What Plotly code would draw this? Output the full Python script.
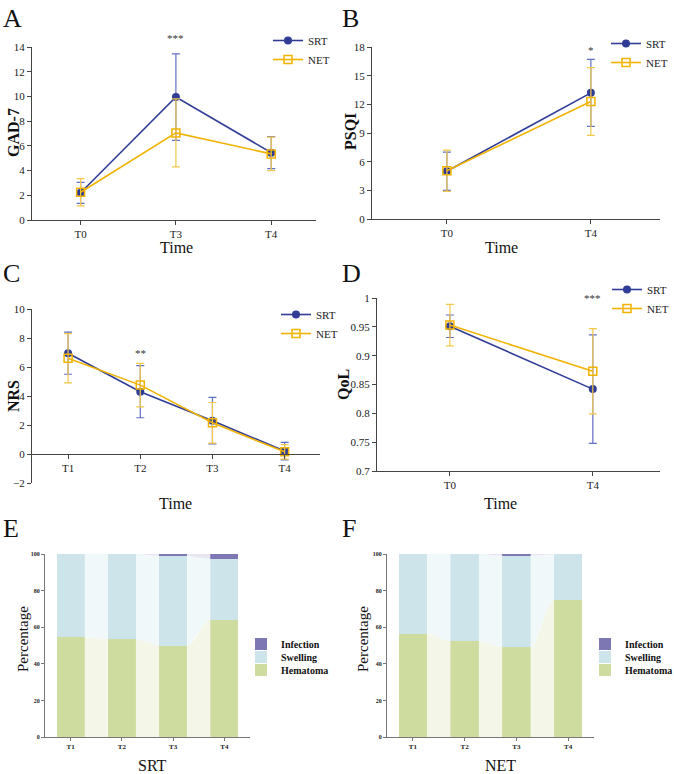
import plotly.graph_objects as go
import numpy as np

W, H = 674, 774
def px(x): return x / W
def py(y): return 1 - y / H

# ---------------- data ----------------
gad_time = ["T0", "T3", "T4"]
gad_srt = [2.2, 9.95, 5.45]
gad_srt_err = [0.85, 3.5, 1.3]
gad_net = [2.25, 7.05, 5.35]
gad_net_err = [1.1, 2.75, 1.35]
gad_sig = ["", "***", ""]

psqi_time = ["T0", "T4"]
psqi_srt = [5.0, 13.2]
psqi_srt_err = [2.0, 3.5]
psqi_net = [5.05, 12.3]
psqi_net_err = [2.15, 3.55]
psqi_sig = ["", "*"]

nrs_time = ["T1", "T2", "T3", "T4"]
nrs_srt = [6.95, 4.3, 2.3, 0.2]
nrs_srt_err = [1.45, 1.8, 1.6, 0.6]
nrs_net = [6.6, 4.75, 2.15, 0.15]
nrs_net_err = [1.7, 1.5, 1.4, 0.5]
nrs_sig = ["", "**", "", ""]

qol_time = ["T0", "T4"]
qol_srt = [0.951, 0.842]
qol_srt_err = [0.0195, 0.094]
qol_net = [0.953, 0.873]
qol_net_err = [0.036, 0.074]
qol_sig = ["", "***"]

comp_time = ["T1", "T2", "T3", "T4"]
srt_hematoma = [54.5, 53.4, 50.0, 64.2]
srt_swelling = [45.5, 46.6, 49.0, 33.3]
srt_infection = [0.0, 0.0, 1.0, 2.5]
net_hematoma = [56.3, 52.4, 49.2, 75.0]
net_swelling = [43.7, 47.6, 49.8, 25.0]
net_infection = [0.0, 0.0, 1.0, 0.0]

# ---------------- styles ----------------
FONT = "Liberation Serif"
SRT_C = "#2f3d96"
SRT_E = "#6170c4"
NET_C = "#f2b200"
NET_E = "#f4c84a"
AX_C = "#444444"
HEM_C = "#cfdca0"
SWE_C = "#cde4ea"
INF_C = "#7d78b4"
HEM_G = "#f4f6e8"
SWE_G = "#f0f8fa"
INF_G = "#e8e5f2"

fig = go.Figure()

line_panels = [
    dict(n="", t=gad_time, s=gad_srt, se=gad_srt_err, m=gad_net, me=gad_net_err, sig=gad_sig,
         xd=(32, 316), yd=(220, 47), yr=(0, 14), dt=2, xr=(-0.51, 2.47), yt="GAD-7",
         ytp=(13, 133), xtp=(176, 248), lg=(268, 26), letter="A", lp=(1, 2), sigshift=9),
    dict(n="2", t=psqi_time, s=psqi_srt, se=psqi_srt_err, m=psqi_net, me=psqi_net_err, sig=psqi_sig,
         xd=(372, 660), yd=(219, 47), yr=(0, 18), dt=3, xr=(-0.52, 1.48), yt="PSQI",
         ytp=(351, 132), xtp=(501, 248), lg=(606, 29), letter="B", lp=(340, 2), sigshift=-3),
    dict(n="3", t=nrs_time, s=nrs_srt, se=nrs_srt_err, m=nrs_net, me=nrs_net_err, sig=nrs_sig,
         xd=(32, 320), yd=(483, 309), yr=(-2, 10), dt=2, xr=(-0.5, 3.49), yt="NRS",
         ytp=(13, 396), xtp=(175, 503), lg=(276, 300), letter="C", lp=(1, 257), sigshift=-44),
    dict(n="4", t=qol_time, s=qol_srt, se=qol_srt_err, m=qol_net, me=qol_net_err, sig=qol_sig,
         xd=(377, 660), yd=(471, 298), yr=(0.7, 1.0), dt=0.05, xr=(-0.51, 1.47), yt="QoL",
         ytp=(344, 385), xtp=(500, 503), lg=(607, 275), letter="D", lp=(340, 257), sigshift=0),
]

annotations = []

for p in line_panels:
    n = p["n"]
    xa = "x" + n
    ya = "y" + n
    leg = "legend" + n
    xs = list(range(len(p["t"])))
    fig.add_trace(go.Scatter(
        x=xs, y=p["s"], mode="lines+markers", name="SRT", legend=leg,
        xaxis=xa, yaxis=ya, cliponaxis=False,
        line=dict(color=SRT_C, width=1.6),
        marker=dict(symbol="circle", size=8, color=SRT_C),
        error_y=dict(type="data", array=p["se"], color=SRT_E, thickness=1.2, width=4)))
    fig.add_trace(go.Scatter(
        x=xs, y=p["m"], mode="lines+markers", name="NET", legend=leg,
        xaxis=xa, yaxis=ya, cliponaxis=False,
        line=dict(color=NET_C, width=1.6),
        marker=dict(symbol="square-open", size=8, color=NET_C, line=dict(width=1.5)),
        error_y=dict(type="data", array=p["me"], color=NET_E, thickness=1.2, width=4)))

    xaxis = dict(domain=[px(p["xd"][0]), px(p["xd"][1])], range=list(p["xr"]),
                 tickvals=xs, ticktext=p["t"], showline=True, linecolor=AX_C, linewidth=1,
                 ticks="outside", ticklen=4, tickcolor=AX_C, showgrid=False, zeroline=False,
                 tickfont=dict(family=FONT, size=11, color="#222"), anchor=ya)
    if p["yr"][0] < 0:
        y0f, y1f = py(p["yd"][0]), py(p["yd"][1])
        zero_frac = y0f + (0 - p["yr"][0]) / (p["yr"][1] - p["yr"][0]) * (y1f - y0f)
        xaxis.update(anchor="free", position=zero_frac)
    fig.layout["xaxis" + n] = xaxis
    fig.layout["yaxis" + n] = dict(domain=[py(p["yd"][0]), py(p["yd"][1])], range=list(p["yr"]),
                                   dtick=p["dt"], showline=True, linecolor=AX_C, linewidth=1,
                                   ticks="outside", ticklen=4, tickcolor=AX_C, showgrid=False,
                                   zeroline=False, tickfont=dict(family=FONT, size=11, color="#222"),
                                   anchor=xa)
    fig.layout[leg] = dict(x=px(p["lg"][0]), y=py(p["lg"][1]), xanchor="left", yanchor="top",
                           bgcolor="rgba(0,0,0,0)", itemwidth=30,
                           font=dict(family=FONT, size=11, color="#222"))
    annotations.append(dict(text="<b>%s</b>" % p["yt"], x=px(p["ytp"][0]), y=py(p["ytp"][1]),
                            xref="paper", yref="paper", textangle=-90, showarrow=False,
                            font=dict(family=FONT, size=16, color="#111"),
                            xanchor="center", yanchor="middle"))
    annotations.append(dict(text="Time", x=px(p["xtp"][0]), y=py(p["xtp"][1]),
                            xref="paper", yref="paper", showarrow=False,
                            font=dict(family=FONT, size=16, color="#111"),
                            xanchor="center", yanchor="middle"))
    annotations.append(dict(text=p["letter"], x=px(p["lp"][0]), y=py(p["lp"][1]),
                            xref="paper", yref="paper", showarrow=False,
                            font=dict(family=FONT, size=26, color="#111"),
                            xanchor="left", yanchor="top"))
    for i, s in enumerate(p["sig"]):
        if s:
            annotations.append(dict(text=s, x=i, y=p["yr"][1], xref=xa, yref=ya, showarrow=False,
                                    yshift=p["sigshift"],
                                    font=dict(family=FONT, size=11, color="#333"),
                                    xanchor="center", yanchor="middle"))

# ---------------- stacked bar panels ----------------
bar_panels = [
    dict(n="5", hem=srt_hematoma, swe=srt_swelling, inf=srt_infection, xd=(45, 250), yd=(737, 554),
         title="SRT", tp=(152, 765), ytp=(23, 639), lg=(241, 644), letter="E", lp=(1, 512)),
    dict(n="6", hem=net_hematoma, swe=net_swelling, inf=net_infection, xd=(387, 594), yd=(737, 554),
         title="NET", tp=(500, 765), ytp=(363, 639), lg=(585, 644), letter="F", lp=(340, 512)),
]
BW = 0.55
LEG_STEP = 13
tt = np.linspace(0, 1, 30)
ss = tt * tt * (3 - 2 * tt)

for p in bar_panels:
    n = p["n"]
    xa, ya = "x" + n, "y" + n
    xs = list(range(len(comp_time)))
    hem = np.array(p["hem"]); swe = np.array(p["swe"]); inf = np.array(p["inf"])
    low1 = hem
    low2 = hem + swe
    top = hem + swe + inf
    for i in range(len(xs) - 1):
        x0 = xs[i] + BW / 2
        x1 = xs[i + 1] - BW / 2
        gx = x0 + (x1 - x0) * tt
        c1 = low1[i] + (low1[i + 1] - low1[i]) * ss
        c2 = low2[i] + (low2[i + 1] - low2[i]) * ss
        c3 = top[i] + (top[i + 1] - top[i]) * ss
        zero = np.zeros_like(gx)
        for lo, hi, col in [(zero, c1, HEM_G), (c1, c2, SWE_G), (c2, c3, INF_G)]:
            fig.add_trace(go.Scatter(
                x=np.concatenate([gx, gx[::-1]]), y=np.concatenate([hi, lo[::-1]]),
                mode="lines", fill="toself", fillcolor=col, line=dict(width=0),
                xaxis=xa, yaxis=ya, showlegend=False, hoverinfo="skip"))
    series = [(p["hem"], "Hematoma", HEM_C, 2), (p["swe"], "Swelling", SWE_C, 1),
              (p["inf"], "Infection", INF_C, 0)]
    for vals, name, col, row in series:
        leg = "legend%d" % (int(n) * 10 + row)
        fig.add_trace(go.Bar(x=xs, y=vals, name=name, width=BW,
                             marker=dict(color=col, line=dict(width=0)),
                             xaxis=xa, yaxis=ya, legend=leg))
        fig.layout[leg] = dict(x=px(p["lg"][0]), y=py(p["lg"][1] + row * LEG_STEP),
                               xanchor="left", yanchor="middle", bgcolor="rgba(0,0,0,0)",
                               itemwidth=30,
                               font=dict(family=FONT, size=10, color="#111", weight="bold"))
    fig.layout["xaxis" + n] = dict(domain=[px(p["xd"][0]), px(p["xd"][1])], range=[-0.5, 3.5],
                                   tickvals=xs, ticktext=comp_time, showline=True, linecolor="#777",
                                   ticks="outside", ticklen=3, tickcolor="#777", showgrid=False,
                                   zeroline=False, anchor=ya,
                                   tickfont=dict(family=FONT, size=7, color="#222", weight="bold"))
    fig.layout["yaxis" + n] = dict(domain=[py(p["yd"][0]), py(p["yd"][1])], range=[0, 100], dtick=20,
                                   showline=True, linecolor="#777", ticks="outside", ticklen=3,
                                   tickcolor="#777", showgrid=False, zeroline=False, anchor=xa,
                                   tickfont=dict(family=FONT, size=6, color="#222", weight="bold"))
    annotations.append(dict(text=p["title"], x=px(p["tp"][0]), y=py(p["tp"][1]),
                            xref="paper", yref="paper", showarrow=False,
                            font=dict(family=FONT, size=16, color="#111"),
                            xanchor="center", yanchor="middle"))
    annotations.append(dict(text="Percentage", x=px(p["ytp"][0]), y=py(p["ytp"][1]),
                            xref="paper", yref="paper", textangle=-90, showarrow=False,
                            font=dict(family=FONT, size=15, color="#111"),
                            xanchor="center", yanchor="middle"))
    annotations.append(dict(text=p["letter"], x=px(p["lp"][0]), y=py(p["lp"][1]),
                            xref="paper", yref="paper", showarrow=False,
                            font=dict(family=FONT, size=26, color="#111"),
                            xanchor="left", yanchor="top"))

fig.update_layout(width=W, height=H, margin=dict(l=0, r=0, t=0, b=0, autoexpand=False),
                  font=dict(family=FONT, color="#222"),
                  paper_bgcolor="white", plot_bgcolor="white", barmode="stack", bargap=0,
                  annotations=annotations, showlegend=True)

fig.write_html("out.html")
